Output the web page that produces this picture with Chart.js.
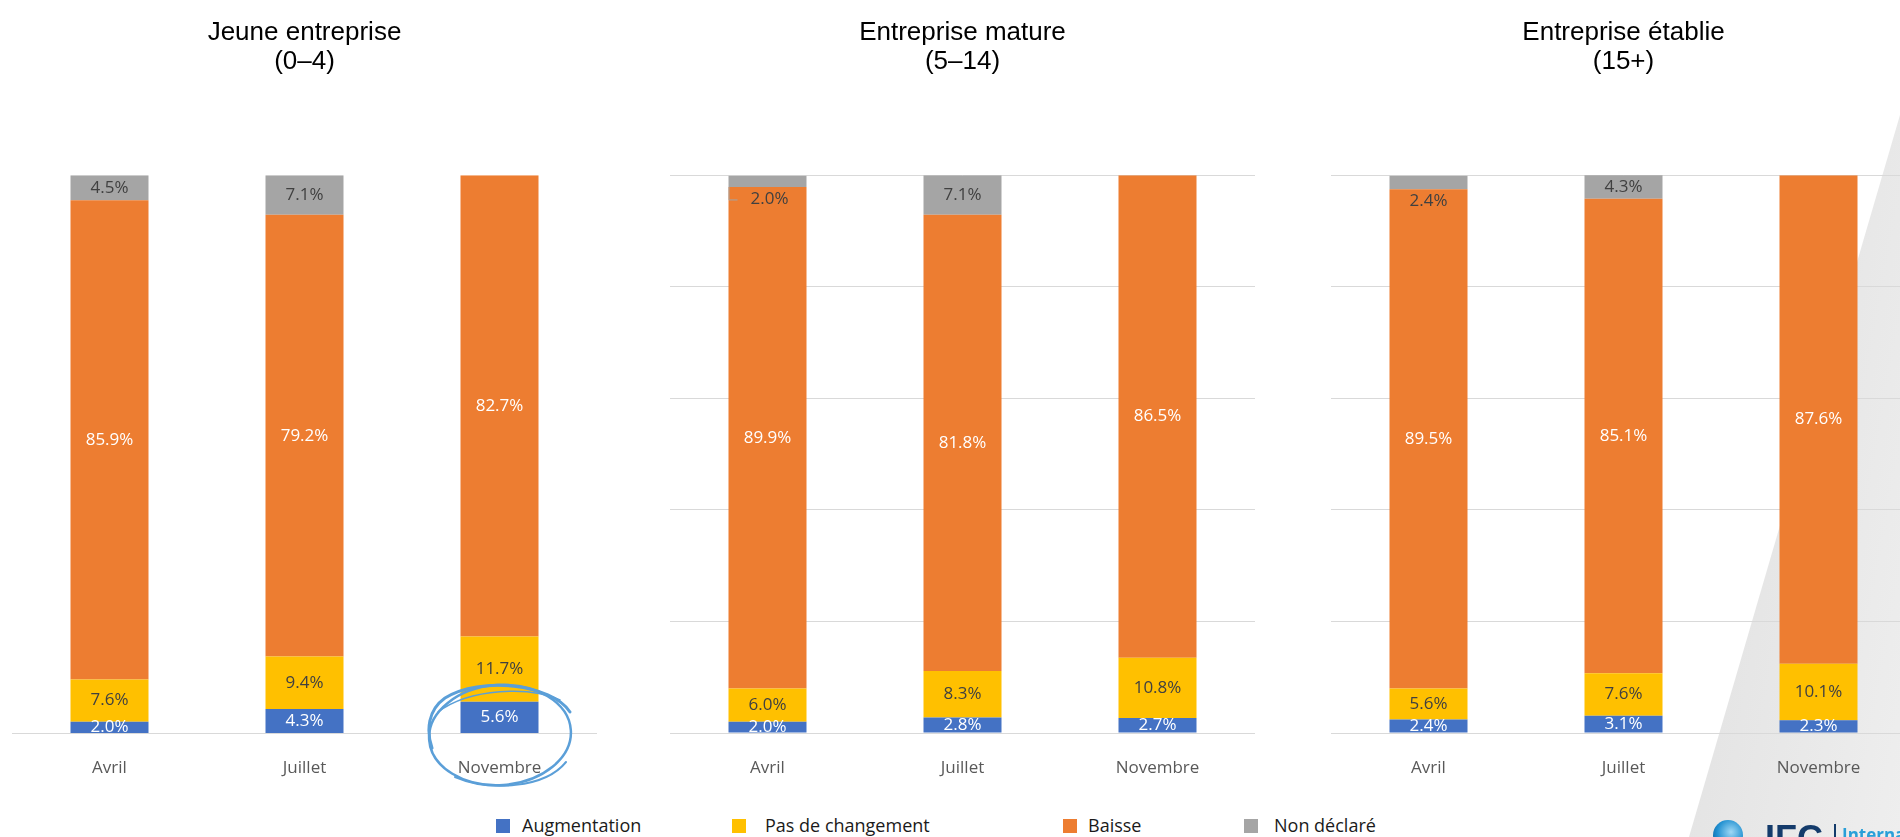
<!DOCTYPE html>
<html lang="fr">
<head>
<meta charset="utf-8">
<title>Évolution par âge d'entreprise</title>
<script src="https://cdn.jsdelivr.net/npm/chart.js@4.4.1/dist/chart.umd.min.js"></script>
<style>
  html, body { margin: 0; padding: 0; }
  body { width: 1900px; height: 837px; position: relative; overflow: hidden; background: #fff; font-family: "Open Sans", sans-serif; }
  .wedge { position: absolute; left: 0; top: 0; width: 1900px; height: 837px;
           background: linear-gradient(100deg, #e3e3e3 88%, #eeeeee 100%);
           clip-path: polygon(1900px 115px, 1900px 837px, 1689px 837px); }
  canvas { position: absolute; top: 0; }
  #c1 { left: 12px; }
  #c2 { left: 670px; }
  #c3 { left: 1331px; }
  .lg-box { position: absolute; top: 819px; width: 14px; height: 14px; }
  .lg-text { position: absolute; top: 816px; font-size: 18px; line-height: 18px; color: #1a1a1a; white-space: nowrap; }
  .mark { position: absolute; left: 0; top: 0; pointer-events: none; }
  .logo { position: absolute; left: 1713px; top: 818px; height: 19px; overflow: hidden; white-space: nowrap; }
  .globe { position: absolute; left: 0; top: 2px; width: 30px; height: 30px; border-radius: 50%;
           background: radial-gradient(circle at 60% 40%, #9fd8f5, #1f8fd0 55%, #0c4f8a); }
  .ifc { position: absolute; left: 52px; top: 0; font: bold 36px "Liberation Sans", Arial, sans-serif; color: #143b6b; }
  .sep { position: absolute; left: 121px; top: 6px; width: 2px; height: 20px; background: #143b6b; }
  .intl { position: absolute; left: 129px; top: 5px; font: bold 17px "Open Sans", sans-serif; color: #2a9fd8; }
</style>
</head>
<body>
<div class="wedge"></div>
<canvas id="c1" width="585" height="800"></canvas>
<canvas id="c2" width="585" height="800"></canvas>
<canvas id="c3" width="585" height="800"></canvas>
<div id="legend"></div>
<svg class="mark" width="1900" height="837">
  <g fill="none" stroke="#5b9fd8" stroke-linecap="round">
    <ellipse cx="500" cy="735" rx="71" ry="50" transform="rotate(-4 500 735)" stroke-width="2.5"/>
    <path d="M 570 712 C 552 684, 480 676, 445 698 C 428 710, 426 730, 432 748" stroke-width="3"/>
    <path d="M 560 700 C 530 686, 470 688, 438 712" stroke-width="1.5"/>
    <path d="M 455 777 C 490 792, 545 788, 566 762" stroke-width="2"/>
  </g>
</svg>
<div class="logo" style="width:187px"><span class="globe"></span><span class="ifc">IFC</span><span class="sep"></span><span class="intl">International</span></div>
<script>
const months = ['Avril', 'Juillet', 'Novembre'];
const seriesNames = ['Augmentation', 'Pas de changement', 'Baisse', 'Non déclaré'];
const seriesColours = ['#4472C4', '#FFC000', '#ED7D31', '#A5A5A5'];
const labelColours = ['#ffffff', '#404040', '#ffffff', '#404040'];

const jeuneTitle = ['Jeune entreprise', '(0–4)'];
const jeuneHausse = [2.0, 4.3, 5.6];
const jeuneStable = [7.6, 9.4, 11.7];
const jeuneBaisse = [85.9, 79.2, 82.7];
const jeuneNonDeclare = [4.5, 7.1, null];

const matureTitle = ['Entreprise mature', '(5–14)'];
const matureHausse = [2.0, 2.8, 2.7];
const matureStable = [6.0, 8.3, 10.8];
const matureBaisse = [89.9, 81.8, 86.5];
const matureNonDeclare = [2.0, 7.1, null];

const etablieTitle = ['Entreprise établie', '(15+)'];
const etablieHausse = [2.4, 3.1, 2.3];
const etablieStable = [5.6, 7.6, 10.1];
const etablieBaisse = [89.5, 85.1, 87.6];
const etablieNonDeclare = [2.4, 4.3, null];

const yMax = 100;
const yStep = 20;

// legend layout (pixels)
const legendBoxX = [496, 732, 1063, 1244];
const legendTextX = [522, 765, 1088, 1274];

// value in the middle of every segment; a thin top segment gets its label pushed below
const segmentLabels = {
    id: 'segmentLabels',
    afterDatasetsDraw(chart) {
        const ctx = chart.ctx;
        const last = chart.data.datasets.length - 1;
        ctx.save();
        ctx.font = '17px "Open Sans"';
        ctx.textAlign = 'center';
        ctx.textBaseline = 'middle';
        chart.data.datasets.forEach((ds, i) => {
            chart.getDatasetMeta(i).data.forEach((bar, j) => {
                const v = ds.data[j];
                if (v == null) return;
                const top = Math.min(bar.y, bar.base);
                const h = Math.abs(bar.base - bar.y);
                let y = top + h / 2;
                let dx = 0;
                if (i === last && h < 16) {
                    y = top + h + 12;
                    if (h < 12) {
                        const left = bar.x - bar.width / 2;
                        ctx.strokeStyle = '#a5a5a5';
                        ctx.lineWidth = 1;
                        ctx.beginPath();
                        ctx.moveTo(left + 0.5, top + h);
                        ctx.lineTo(left + 0.5, y + 1);
                        ctx.lineTo(left + 9, y + 1);
                        ctx.stroke();
                        dx = 2;
                    }
                }
                ctx.fillStyle = labelColours[i];
                ctx.fillText(v.toFixed(1) + '%', bar.x + dx, y);
            });
        });
        ctx.restore();
    }
};

function makeChart(id, title, series, showGrid) {
    return new Chart(document.getElementById(id), {
        type: 'bar',
        data: {
            labels: months,
            datasets: series.map((values, i) => ({
                label: seriesNames[i],
                data: values,
                backgroundColor: seriesColours[i],
                barPercentage: 0.4,
                categoryPercentage: 1.0
            }))
        },
        options: {
            responsive: false,
            animation: false,
            layout: { padding: 0 },
            plugins: {
                legend: { display: false },
                tooltip: { enabled: false },
                title: {
                    display: true,
                    text: title,
                    color: '#000000',
                    font: { family: '"Liberation Sans", Arial, sans-serif', size: 26, weight: 'normal', lineHeight: 1.12 },
                    padding: { top: 18, bottom: 99 }
                }
            },
            scales: {
                x: {
                    stacked: true,
                    grid: { display: false },
                    border: { display: true, color: '#d9d9d9', width: 1 },
                    ticks: { color: '#595959', font: { family: '"Open Sans"', size: 17 }, padding: 17 },
                    afterFit(scale) { scale.height = 67; }
                },
                y: {
                    stacked: true,
                    display: showGrid,
                    min: 0,
                    max: yMax,
                    ticks: { display: false, stepSize: yStep },
                    grid: { color: '#d9d9d9', lineWidth: 1, drawTicks: false },
                    border: { display: false },
                    afterFit(scale) { scale.width = 0; }
                }
            }
        },
        plugins: [segmentLabels]
    });
}

makeChart('c1', jeuneTitle, [jeuneHausse, jeuneStable, jeuneBaisse, jeuneNonDeclare], false);
makeChart('c2', matureTitle, [matureHausse, matureStable, matureBaisse, matureNonDeclare], true);
makeChart('c3', etablieTitle, [etablieHausse, etablieStable, etablieBaisse, etablieNonDeclare], true);

const legend = document.getElementById('legend');
seriesNames.forEach((name, i) => {
    const box = document.createElement('div');
    box.className = 'lg-box';
    box.style.left = legendBoxX[i] + 'px';
    box.style.background = seriesColours[i];
    legend.appendChild(box);
    const txt = document.createElement('div');
    txt.className = 'lg-text';
    txt.style.left = legendTextX[i] + 'px';
    txt.textContent = name;
    legend.appendChild(txt);
});
</script>
</body>
</html>
